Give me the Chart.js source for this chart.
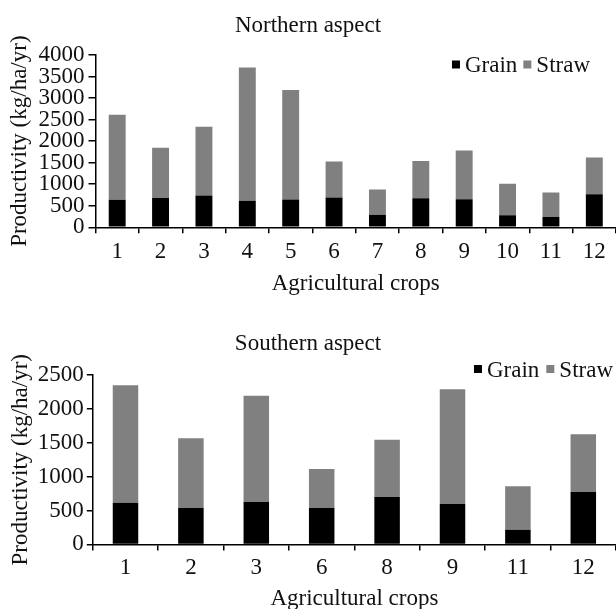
<!DOCTYPE html>
<html>
<head>
<meta charset="utf-8">
<script src="https://cdn.jsdelivr.net/npm/chart.js@4.4.1/dist/chart.umd.min.js"></script>
<style>
  html, body { margin: 0; padding: 0; background: #fff; overflow: hidden; }
  #north { position: absolute; left: 0; top: 0; width: 616px; height: 305px; }
  #south { position: absolute; left: 0; top: 305px; width: 616px; height: 310px; }
</style>
</head>
<body>
<div id="north"><canvas id="chart_north"></canvas></div>
<div id="south"><canvas id="chart_south"></canvas></div>
<script>
// northern aspect, crops 1..12
const northCrops = ['1', '2', '3', '4', '5', '6', '7', '8', '9', '10', '11', '12'];
const northGrain = [640, 680, 740, 615, 645, 690, 290, 675, 650, 280, 240, 770];
const northStraw = [1975, 1165, 1595, 3095, 2540, 835, 585, 865, 1135, 732, 570, 852];

// southern aspect, only some crops
const southCrops = ['1', '2', '3', '6', '8', '9', '11', '12'];
const southGrain = [616, 537, 626, 537, 700, 597, 217, 772];
const southStraw = [1731, 1029, 1568, 577, 843, 1693, 641, 855];

const grainColor = '#000000';
const strawColor = '#808080';
const textColor = '#111111';
const fontSize = 23;

Chart.defaults.font.family = '"Liberation Serif", "Times New Roman", serif';
Chart.defaults.font.size = fontSize;
Chart.defaults.color = textColor;

// little square legend like the original one
const squareLegend = {
  id: 'squareLegend',
  afterDraw(chart, args, opts) {
    const ctx = chart.ctx;
    ctx.save();
    ctx.font = fontSize + 'px "Liberation Serif", "Times New Roman", serif';
    ctx.textBaseline = 'alphabetic';
    const items = chart.data.datasets.map(ds => ({
      text: ds.label,
      color: ds.backgroundColor,
      w: ctx.measureText(ds.label).width
    }));
    let total = 0;
    items.forEach(it => { total += opts.box + opts.boxGap + it.w; });
    total += opts.itemGap * (items.length - 1);
    let x = opts.right - total;
    items.forEach(it => {
      ctx.fillStyle = it.color;
      ctx.fillRect(x, opts.y - opts.box / 2, opts.box, opts.box);
      x += opts.box + opts.boxGap;
      ctx.fillStyle = textColor;
      ctx.fillText(it.text, x, opts.y + 7.6);
      x += it.w + opts.itemGap;
    });
    ctx.restore();
  }
};

function makeChart(canvasId, crops, grain, straw, cfg) {
  return new Chart(document.getElementById(canvasId), {
    type: 'bar',
    data: {
      labels: crops,
      datasets: [
        { label: 'Grain', data: grain, backgroundColor: grainColor, borderWidth: 0 },
        { label: 'Straw', data: straw, backgroundColor: strawColor, borderWidth: 0 }
      ]
    },
    options: {
      responsive: true,
      maintainAspectRatio: false,
      animation: false,
      layout: { padding: 0 },
      datasets: {
        bar: { barPercentage: 0.39, categoryPercentage: 1.0 }
      },
      scales: {
        x: {
          stacked: true,
          grid: {
            display: true,
            drawOnChartArea: false,
            drawTicks: true,
            tickLength: 6,
            color: '#000',
            lineWidth: 1.5
          },
          border: { display: true, color: '#000', width: 1.5 },
          ticks: { padding: cfg.xTickPad, maxRotation: 0, autoSkip: false },
          title: {
            display: true,
            text: 'Agricultural crops',
            padding: cfg.xTitlePad
          }
        },
        y: {
          stacked: true,
          min: 0,
          max: cfg.yMax,
          ticks: {
            stepSize: 500,
            autoSkip: false,
            padding: cfg.yTickPad,
            callback: value => String(value)
          },
          grid: {
            display: true,
            drawOnChartArea: false,
            drawTicks: true,
            tickLength: cfg.yTickLen,
            color: '#000',
            lineWidth: 1.5
          },
          border: { display: true, color: '#000', width: 1.5 },
          title: {
            display: true,
            text: 'Productivity (kg/ha/yr)',
            padding: cfg.yTitlePad
          }
        }
      },
      plugins: {
        legend: { display: false },
        tooltip: { enabled: false },
        title: {
          display: true,
          text: cfg.title,
          font: { size: fontSize, weight: 'normal' },
          color: textColor,
          padding: cfg.titlePad
        },
        squareLegend: cfg.legend
      }
    },
    plugins: [squareLegend]
  });
}

makeChart('chart_north', northCrops, northGrain, northStraw, {
  title: 'Northern aspect',
  titlePad: { top: 12.5, bottom: 14.9 },
  yMax: 4000,
  yTickPad: 4,
  yTickLen: 7,
  yTitlePad: { top: 6.5, bottom: 0.4 },
  xTickPad: 5,
  xTitlePad: { top: -0.5, bottom: 7 },
  legend: { right: 590, y: 64.5, box: 8, boxGap: 5, itemGap: 6 }
});

makeChart('chart_south', southCrops, southGrain, southStraw, {
  title: 'Southern aspect',
  titlePad: { top: 25.6, bottom: 16.8 },
  yMax: 2500,
  yTickPad: 3,
  yTickLen: 6,
  yTitlePad: { top: 7.2, bottom: 0 },
  xTickPad: 4,
  xTitlePad: { top: -1.2, bottom: 2.6 },
  legend: { right: 613, y: 64, box: 8, boxGap: 5, itemGap: 7 }
});
</script>
</body>
</html>
